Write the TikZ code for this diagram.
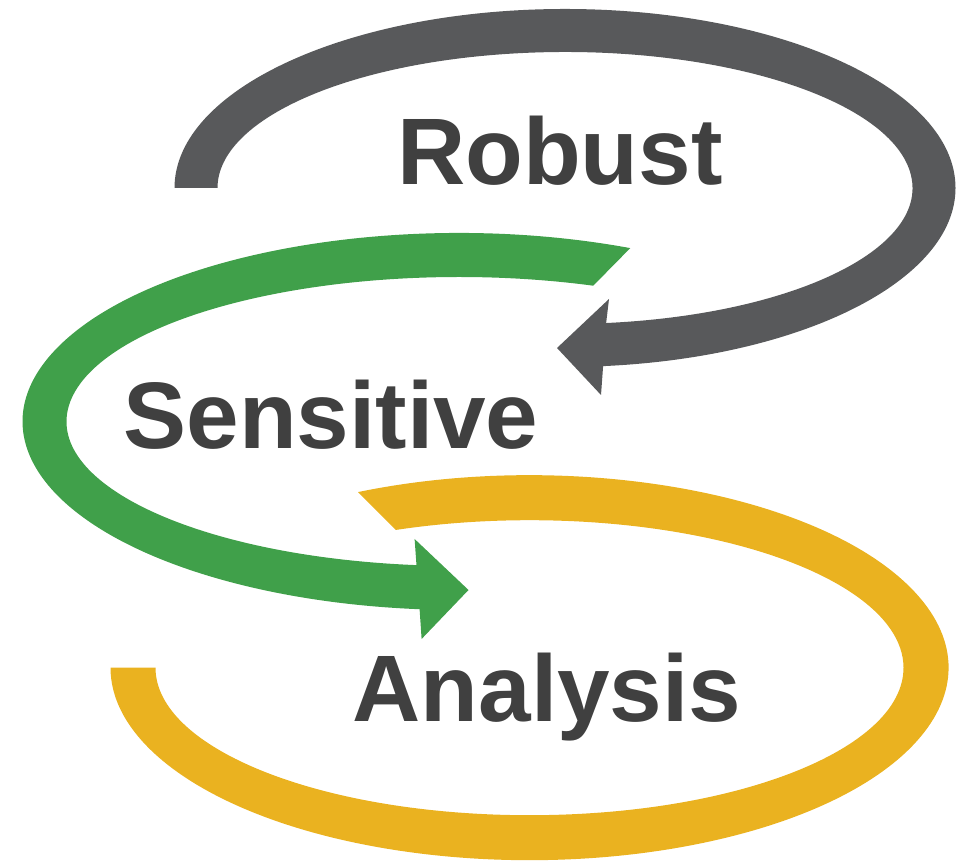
\documentclass[tikz,border=0pt]{standalone}
\usepackage{fontspec}
\setmainfont{Liberation Sans}
\definecolor{arrgray}{HTML}{58595B}
\definecolor{arrgreen}{HTML}{40A04A}
\definecolor{arryellow}{HTML}{EAB220}
\definecolor{txtgray}{HTML}{404040}
\tikzset{
  word/.style={anchor=base, inner sep=0pt, text=txtgray,
    font=\fontsize{94.5}{113}\selectfont\bfseries},
}
\begin{document}
\begin{tikzpicture}[x=1pt,y=1pt]
\useasboundingbox (0,0) rectangle (976,861);
% gray arrow
\fill[arrgray] ({565-390.5},673)
  arc[start angle=180, end angle=-84.4, x radius=390.5, y radius=179]
  -- (601,466) -- (557,513) -- (609,562)
  -- ({565+347.5*cos(-83.2)},{673+136*sin(-83.2)})
  arc[start angle=-83.2, end angle=180, x radius=347.5, y radius=136]
  -- cycle;
% green arrow
\fill[arrgreen] ({459+436.5*cos(66.9)},{439.5+188.5*sin(66.9)})
  arc[start angle=66.9, end angle=264.82, x radius=436.5, y radius=188.5]
  -- (421.6,222) -- (468.5,271) -- (414.6,322)
  -- ({459+392.5*cos(263.78)},{439.5+144.5*sin(263.78)})
  arc[start angle=263.78, end angle=70.0, x radius=392.5, y radius=144.5]
  -- cycle;
% yellow band
\fill[arryellow] ({529.5+419*cos(114.16)},{193.3+192.5*sin(114.16)})
  arc[start angle=114.16, end angle=-180, x radius=419, y radius=192.5]
  -- ({529.5-374},193.3)
  arc[start angle=-180, end angle=110.95, x radius=374, y radius=147.5]
  -- cycle;
% words
\node[word] (robust) at (560,676) {Robust};
\node[word] (sensitive) at (331,412) {Sensitive};
\node[word] (analysis) at (547,139) {Analysis};
\end{tikzpicture}
\end{document}
